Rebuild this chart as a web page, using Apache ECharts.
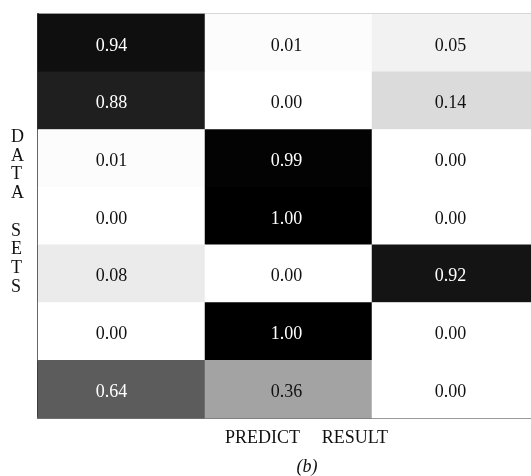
<!DOCTYPE html>
<html><head><meta charset="utf-8">
<script src="https://cdn.jsdelivr.net/npm/echarts@6/dist/echarts.min.js"></script>
<style>html,body{margin:0;padding:0;background:#fff;overflow:hidden}#c{width:540px;height:476px}</style>
</head><body><div id="c"></div>
<script>
const predictClasses = ['A', 'B', 'C'];
const dataSets = ['1', '2', '3', '4', '5', '6', '7'];
const row1 = [0.94, 0.01, 0.05];
const row2 = [0.88, 0.00, 0.14];
const row3 = [0.01, 0.99, 0.00];
const row4 = [0.00, 1.00, 0.00];
const row5 = [0.08, 0.00, 0.92];
const row6 = [0.00, 1.00, 0.00];
const row7 = [0.64, 0.36, 0.00];
const rows = [row1, row2, row3, row4, row5, row6, row7];

const data = [];
rows.forEach((r, yi) => r.forEach((v, xi) => data.push([xi, yi, v])));

const serif = '"Liberation Serif", "DejaVu Serif", serif';
const colShift = [-10, -2, -5];
const chart = echarts.init(document.getElementById('c'));
chart.setOption({
  animation: false,
  backgroundColor: '#ffffff',
  grid: { left: 38, width: 501, top: 14, height: 404, outerBoundsMode: 'none', show: true, borderColor: '#999', borderWidth: 1 },
  xAxis: { type: 'category', data: predictClasses, axisLine: { show: true, lineStyle: { color: '#777', width: 2 } },
           axisTick: { show: false }, axisLabel: { show: false }, splitLine: { show: false } },
  yAxis: { type: 'category', data: dataSets, inverse: true, axisLine: { show: true, lineStyle: { color: '#333', width: 2 } },
           axisTick: { show: false }, axisLabel: { show: false }, splitLine: { show: false } },
  visualMap: { show: false, min: 0, max: 1, dimension: 2, inRange: { color: ['#ffffff', '#000000'] } },
  series: [{
    type: 'heatmap',
    data: data.map(d => ({
      value: d,
      label: { color: d[2] > 0.5 ? '#ffffff' : '#111111', offset: [colShift[d[0]], 3] }
    })),
    label: {
      show: true,
      fontFamily: serif,
      fontSize: 18,
      formatter: p => p.value[2].toFixed(2)
    }
  }],
  graphic: [
    { type: 'text', left: 11, top: 128, style: { text: 'D\nA\nT\nA\n\nS\nE\nT\nS', font: '18px ' + serif,
      fill: '#111', lineHeight: 18.7, align: 'center', width: 18 } },
    { type: 'text', x: 225, y: 429, style: { text: 'PREDICT', font: '18px ' + serif, fill: '#111', textAlign: 'left' } },
    { type: 'text', x: 388, y: 429, style: { text: 'RESULT', font: '18px ' + serif, fill: '#111', textAlign: 'right' } },
    { type: 'text', x: 307, y: 458, style: { text: '(b)', font: 'italic 18px ' + serif, fill: '#111', textAlign: 'center' } }
  ]
});
</script></body></html>
